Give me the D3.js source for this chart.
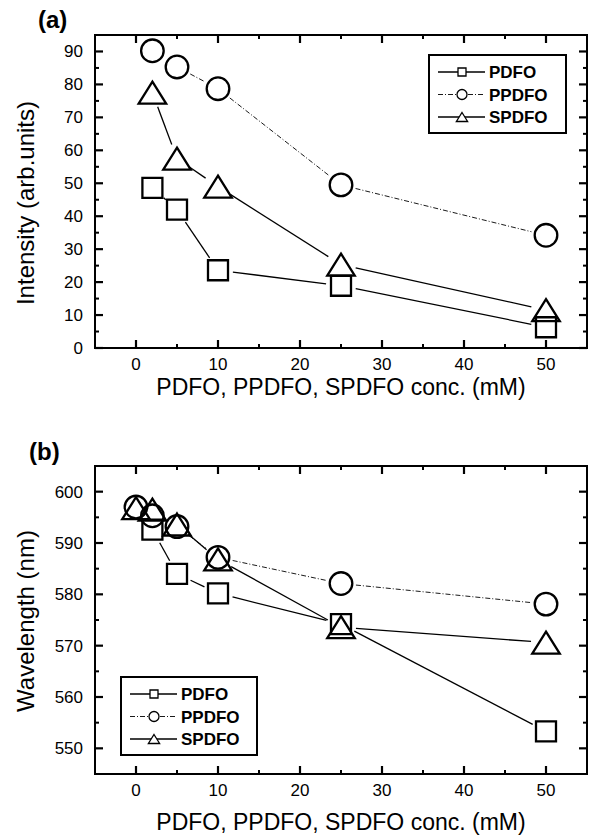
<!DOCTYPE html>
<html>
<head>
<meta charset="utf-8">
<script src="https://cdn.jsdelivr.net/npm/d3@7"></script>
<style>
  body { margin: 0; background: #fff; }
  svg { font-family: 'Liberation Sans', Arial, sans-serif; }
</style>
</head>
<body>
<svg id="chart"></svg>
<script>
// data
const seriesNames = ['PDFO', 'PPDFO', 'SPDFO'];

// (a) intensity vs concentration
const intensityPDFO = [[2, 48.6], [5, 42], [10, 23.6], [25, 18.9], [50, 6.3]];
const intensityPPDFO = [[2, 90.2], [5, 85.3], [10, 78.7], [25, 49.5], [50, 34.2]];
const intensitySPDFO = [[2, 77.5], [5, 57.5], [10, 49], [25, 25.3], [50, 11.5]];

// (b) wavelength vs concentration
const wavePDFO = [[2, 592.6], [5, 584], [10, 580.2], [25, 574.2], [50, 553.3]];
const wavePPDFO = [[0, 597], [2, 595.3], [5, 593.2], [10, 587.2], [25, 582.1], [50, 578.1]];
const waveSPDFO = [[0, 596.8], [2, 596.5], [5, 593.6], [10, 586.8], [25, 573.6], [50, 570.6]];

const xTicks = [0, 10, 20, 30, 40, 50];
const intensityTicks = [0, 10, 20, 30, 40, 50, 60, 70, 80, 90];
const waveTicks = [550, 560, 570, 580, 590, 600];

const width = 593;
const height = 836;

const svg = d3.select('#chart').attr('width', width).attr('height', height);

// marker paths, centred on the point
const markerPath = (type, s) => {
  if (type === 'square') return `M${-s},${-s}H${s}V${s}H${-s}Z`;
  if (type === 'circle') return `M${s},0A${s},${s} 0 1,1 ${-s},0A${s},${s} 0 1,1 ${s},0Z`;
  // triangle: width 2.5s, height 2s
  return `M0,${-s}L${1.25 * s},${s}L${-1.25 * s},${s}Z`;
};

const styles = [
  { marker: 'square', size: 10, dash: null, lw: 1.3 },
  { marker: 'circle', size: 11.3, dash: '5,2,1,2', lw: 0.9 },
  { marker: 'triangle', size: 11, dash: null, lw: 1.3 }
];

const drawPanel = (cfg) => {
  const { left, top, right, bottom } = cfg.box;
  const x = d3.scaleLinear().domain([-5, 55]).range([left, right]);
  const y = d3.scaleLinear().domain(cfg.yDomain).range([bottom, top]);
  const g = svg.append('g');

  // frame
  g.append('rect')
    .attr('x', left).attr('y', top)
    .attr('width', right - left).attr('height', bottom - top)
    .attr('fill', 'none').attr('stroke', '#000').attr('stroke-width', 2);

  // ticks pointing inward on all four sides
  const xMinor = d3.range(5, 55, 10);
  const tick = (x1, y1, x2, y2, w) => g.append('line')
    .attr('x1', x1).attr('y1', y1).attr('x2', x2).attr('y2', y2)
    .attr('stroke', '#000').attr('stroke-width', w);

  xTicks.forEach((v) => {
    tick(x(v), bottom, x(v), bottom - 8, 2.2);
    tick(x(v), top, x(v), top + 8, 2.2);
  });
  xMinor.forEach((v) => {
    tick(x(v), bottom, x(v), bottom - 4, 2);
    tick(x(v), top, x(v), top + 4, 2);
  });
  cfg.yTicks.forEach((v) => {
    tick(left, y(v), left + 8, y(v), 2.2);
    tick(right, y(v), right - 8, y(v), 2.2);
  });
  cfg.yMinor.forEach((v) => {
    tick(left, y(v), left + 4, y(v), 2);
    tick(right, y(v), right - 4, y(v), 2);
  });

  // tick labels
  g.selectAll('.xl').data(xTicks).enter().append('text')
    .attr('x', (d) => x(d)).attr('y', bottom + 22)
    .attr('text-anchor', 'middle').attr('font-size', 17)
    .text((d) => d);
  g.selectAll('.yl').data(cfg.yTicks).enter().append('text')
    .attr('x', left - 12).attr('y', (d) => y(d) + 6)
    .attr('text-anchor', 'end').attr('font-size', 17)
    .text((d) => d);

  // axis titles
  g.append('text')
    .attr('x', 341).attr('y', bottom + cfg.xTitleOffset)
    .attr('text-anchor', 'middle').attr('font-size', 23)
    .text('PDFO, PPDFO, SPDFO conc. (mM)');
  g.append('text')
    .attr('transform', `translate(34,${cfg.yTitleCenter}) rotate(-90)`)
    .attr('text-anchor', 'middle').attr('font-size', 24)
    .text(cfg.yTitle);

  // panel label
  g.append('text')
    .attr('x', cfg.labelPos[0]).attr('y', cfg.labelPos[1])
    .attr('font-size', 24).attr('font-weight', 'bold')
    .text(cfg.label);

  // lines, broken before the markers
  const gap = 15;
  cfg.series.forEach((pts, i) => {
    const st = styles[i];
    for (let k = 0; k < pts.length - 1; k++) {
      const x1 = x(pts[k][0]), y1 = y(pts[k][1]);
      const x2 = x(pts[k + 1][0]), y2 = y(pts[k + 1][1]);
      const len = Math.hypot(x2 - x1, y2 - y1);
      if (len <= 2 * gap + 2) continue;
      const ux = (x2 - x1) / len, uy = (y2 - y1) / len;
      g.append('line')
        .attr('x1', x1 + ux * gap).attr('y1', y1 + uy * gap)
        .attr('x2', x2 - ux * gap).attr('y2', y2 - uy * gap)
        .attr('stroke', '#000').attr('stroke-width', st.lw)
        .attr('stroke-dasharray', st.dash);
    }
  });

  // markers
  cfg.series.forEach((pts, i) => {
    const st = styles[i];
    g.selectAll(null).data(pts).enter().append('path')
      .attr('d', markerPath(st.marker, st.size))
      .attr('transform', (d) => `translate(${x(d[0])},${y(d[1])})`)
      .attr('fill', 'none').attr('stroke', '#000').attr('stroke-width', 2.3);
  });

  // legend
  const lg = cfg.legend;
  g.append('rect')
    .attr('x', lg.x).attr('y', lg.y).attr('width', lg.w).attr('height', lg.h)
    .attr('fill', '#fff').attr('stroke', '#000').attr('stroke-width', 2);
  seriesNames.forEach((name, i) => {
    const st = styles[i];
    const cy = lg.y + 17 + i * 22.5;
    g.append('line')
      .attr('x1', lg.x + 9).attr('x2', lg.x + 56)
      .attr('y1', cy).attr('y2', cy)
      .attr('stroke', '#000').attr('stroke-width', st.lw)
      .attr('stroke-dasharray', st.dash);
    g.append('path')
      .attr('d', markerPath(st.marker, st.marker === 'triangle' ? 4.5 : st.marker === 'circle' ? 5 : 4))
      .attr('transform', `translate(${lg.x + 33},${cy})`)
      .attr('fill', '#fff').attr('stroke', '#000').attr('stroke-width', 1.3);
    g.append('text')
      .attr('x', lg.x + 60).attr('y', cy + 6)
      .attr('font-size', 17).attr('font-weight', 'bold')
      .text(name);
  });
};

drawPanel({
  box: { left: 95, top: 35, right: 587, bottom: 348 },
  yDomain: [0, 95],
  yTicks: intensityTicks,
  yMinor: d3.range(5, 95, 10),
  yTitle: 'Intensity (arb.units)',
  yTitleCenter: 203,
  xTitleOffset: 47,
  label: '(a)',
  labelPos: [38, 28],
  series: [intensityPDFO, intensityPPDFO, intensitySPDFO],
  legend: { x: 429, y: 55, w: 137, h: 78 }
});

drawPanel({
  box: { left: 95, top: 466, right: 587, bottom: 774 },
  yDomain: [545, 605],
  yTicks: waveTicks,
  yMinor: d3.range(555, 605, 10),
  yTitle: 'Wavelength (nm)',
  yTitleCenter: 621,
  xTitleOffset: 56,
  label: '(b)',
  labelPos: [29, 460],
  series: [wavePDFO, wavePPDFO, waveSPDFO],
  legend: { x: 121, y: 677, w: 136, h: 78 }
});
</script>
</body>
</html>
